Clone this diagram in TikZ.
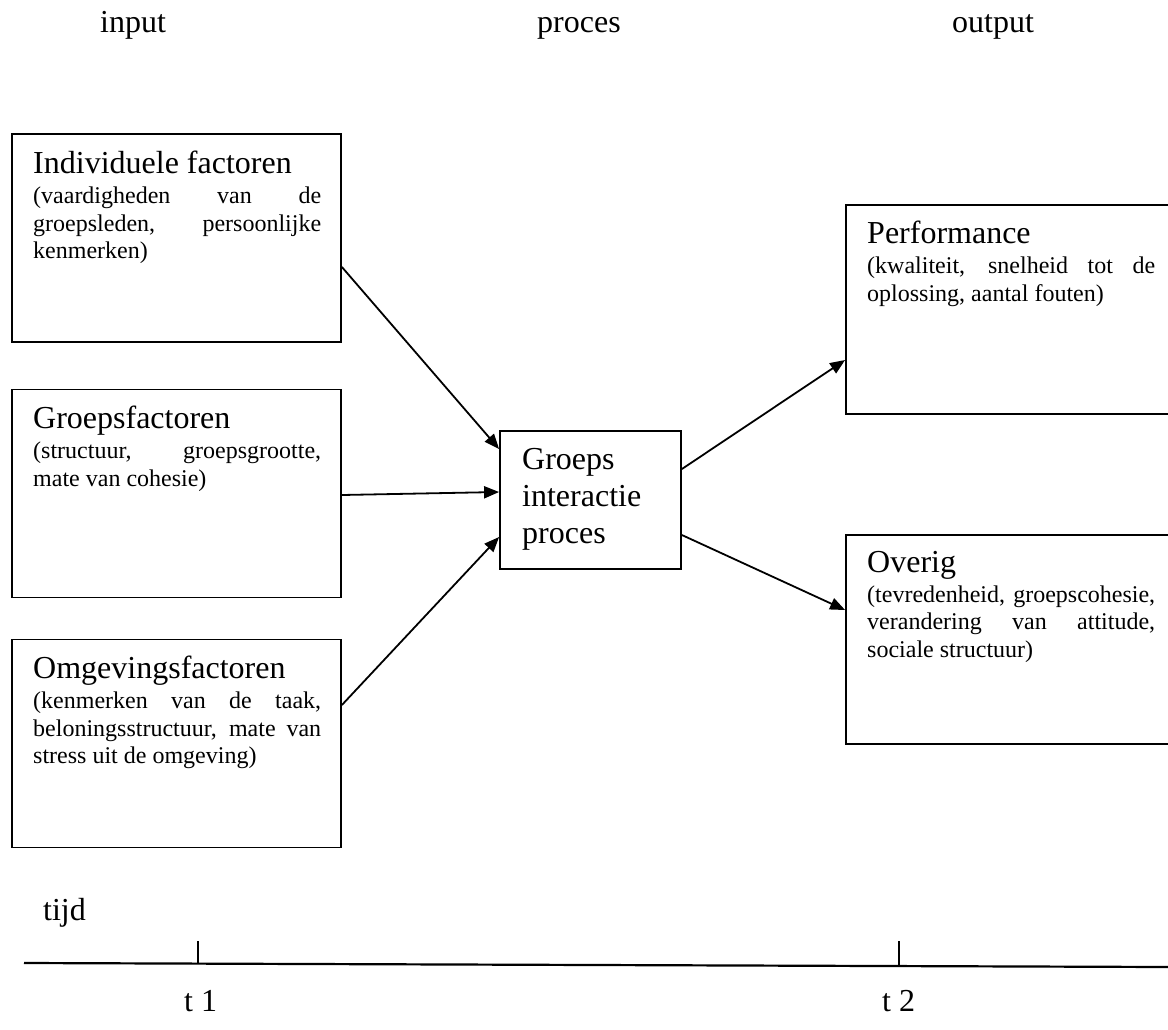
\documentclass[tikz,border=0pt]{standalone}
\usepackage{fontspec}
\setmainfont{Liberation Serif}
\usetikzlibrary{arrows.meta,calc}
\newcommand\tfont{\fontsize{32}{36.8}\selectfont}
\newcommand\sfont{\fontsize{24}{27.6}\selectfont}
\begin{document}
\begin{tikzpicture}[x=1pt,y=-1pt,
  box/.style={draw, line width=1.8pt, inner sep=0pt, minimum width=329pt, minimum height=208pt},
  rbox/.style={draw, line width=1.8pt, inner sep=0pt, minimum width=334pt, minimum height=209pt},
  pbox/.style={draw, line width=1.8pt, inner sep=0pt, minimum width=181pt, minimum height=138pt},
  lbl/.style={anchor=north west, inner sep=0pt, text width=288pt, align=justify,
    execute at begin node={\tolerance=10000\hyphenpenalty=10000}},
  head/.style={anchor=base west, inner sep=0pt, font=\tfont},
  arr/.style={line width=1.8pt, -{Triangle[length=15pt,width=12pt]}},
  axis/.style={line width=2.2pt},
  tick/.style={line width=1.1pt}
]
\useasboundingbox (0,0) rectangle (1168,1029);
\clip (0,0) rectangle (1168,1029);

% headers
\node[head] (hin) at (100,32) {input};
\node[head] (hpr) at (537,32) {proces};
\node[head] (hout) at (952,32) {output};

% boxes
\node[box] (ind) at (176.5,238) {};
\node[box] (grp) at (176.5,493.5) {};
\node[box] (omg) at (176.5,743.5) {};
\node[pbox] (proc) at (590.5,500) {};
\node[rbox] (perf) at (1013,309.5) {};
\node[rbox] (ovr) at (1013,639.5) {};

% box texts
\node[lbl] (indt) at (33,151) {{\tfont Individuele factoren\par}\vspace{2.4pt}{\sfont (vaardigheden van de\linebreak groepsleden, persoonlijke\linebreak kenmerken)\par}};
\node[lbl] (grpt) at (33,406) {{\tfont Groepsfactoren\par}\vspace{2.4pt}{\sfont (structuur, groepsgrootte,\linebreak mate van cohesie)\par}};
\node[lbl] (omgt) at (33,656) {{\tfont Omgevingsfactoren\par}\vspace{2.4pt}{\sfont (kenmerken van de taak,\linebreak beloningsstructuur, mate van\linebreak stress uit de omgeving)\par}};
\node[lbl] (perft) at (867,221) {{\tfont Performance\par}\vspace{2.4pt}{\sfont (kwaliteit, snelheid tot de\linebreak oplossing, aantal fouten)\par}};
\node[lbl] (ovrt) at (867,551) {{\tfont Overig\par}\vspace{2.4pt}{\sfont (tevredenheid, groepscohesie,\linebreak verandering van attitude,\linebreak sociale structuur)\par}};
\node[anchor=north west, inner sep=0pt, align=left, font=\fontsize{32}{37}\selectfont] (proct) at (522,448) {Groeps\\interactie\\proces};

% connectors
\draw[arr] ($(ind.east)+(0,29)$) -- ($(proc.west)+(0,-51)$);
\draw[arr] ($(grp.east)+(0,1.5)$) -- ($(proc.west)+(0,-8)$);
\draw[arr] ($(omg.east)+(0,-38.5)$) -- ($(proc.west)+(0,37)$);
\draw[arr] ($(proc.east)+(0,-31)$) -- ($(perf.west)+(0,50.5)$);
\draw[arr] ($(proc.east)+(0,35)$) -- ($(ovr.west)+(0,-29.5)$);

% time axis
\node[head] (tijd) at (43,920) {tijd};
\coordinate (a0) at (24,963);
\coordinate (a1) at (1168,967);
\draw[axis] (a0) -- (a1);
\coordinate (k1) at (198,963.5);
\coordinate (k2) at (899,966);
\draw[tick] (k1) -- ++(0,-23);
\draw[tick] (k2) -- ++(0,-25);
\node[head] (t1) at (184,1011) {t 1};
\node[head] (t2) at (882,1011) {t 2};
\end{tikzpicture}
\end{document}
